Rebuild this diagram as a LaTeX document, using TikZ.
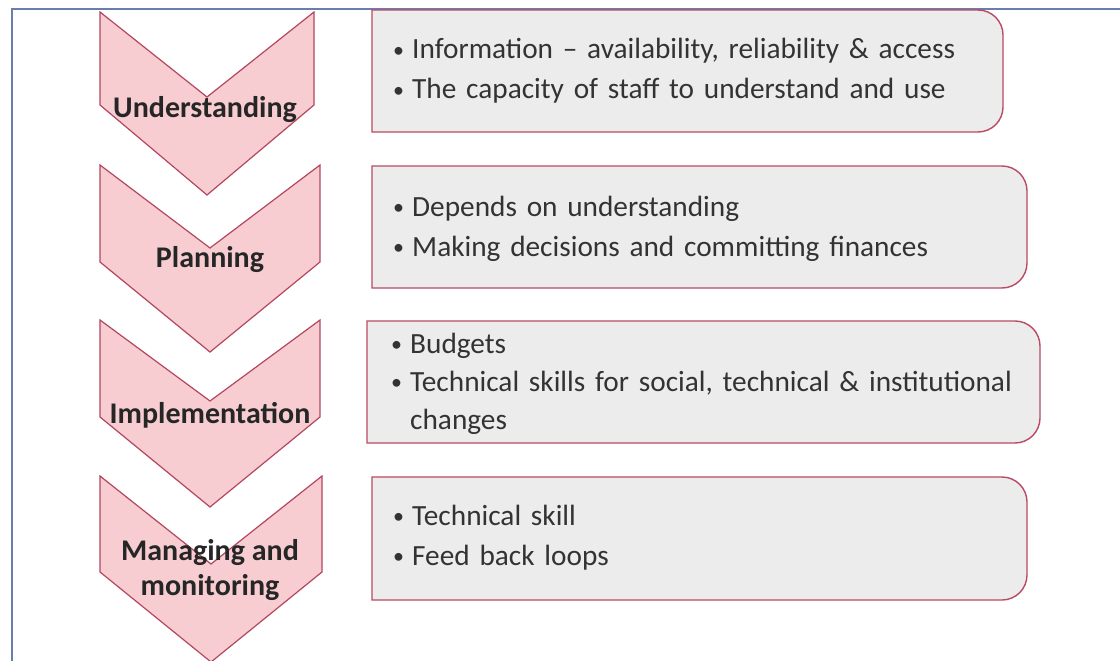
\documentclass[tikz,border=0pt]{standalone}
\usepackage{fontspec}
\setmainfont{Carlito}
\begin{document}
\begin{tikzpicture}[x=1pt,y=-1pt,
  chevfill/.style={draw=chevline, line width=1.2pt, fill=chevpink, line join=miter},
  itembox/.style={draw=boxline, line width=1.4pt, fill=boxgray},
  chevlabel/.style={font=\fontsize{30}{34}\selectfont\bfseries, text=black!85, align=center, inner sep=0pt},
  itemtext/.style={font=\fontsize{29.3}{40}\selectfont, text=black!80, align=left, anchor=base west, inner sep=0pt, text width=680pt}]
\definecolor{chevpink}{RGB}{247,205,210}
\definecolor{chevline}{RGB}{180,70,95}
\definecolor{boxgray}{RGB}{236,236,236}
\definecolor{boxline}{RGB}{185,75,100}
\definecolor{frameblue}{RGB}{105,125,175}
\useasboundingbox (0,0) rectangle (1120,661);
\fill[white] (0,0) rectangle (1120,661);
% frame
\draw[frameblue, line width=1.6pt] (12,661) -- (12,9) -- (1120,9);
% chevrons
\newcommand{\chevron}[5]{% cx, top, halfwidth, notchdepth, sidedepth
  \draw[chevfill] (#1-#3,#2) -- (#1,#2+#4) -- (#1+#3,#2) -- (#1+#3,#2+#5) -- (#1,#2+#5+90) -- (#1-#3,#2+#5) -- cycle;}
\chevron{207}{12}{107}{85}{93}
\chevron{210}{165}{110}{83}{97}
\chevron{210}{320}{110}{81}{97}
\chevron{211}{476}{111}{88}{96}
% boxes (rounded on right)
\newcommand{\rbox}[4]{% left, top, right, bottom
  \draw[itembox] (#1,#2) -- (#3-25,#2) arc[start angle=-90,end angle=0,radius=25] -- (#3,#4-25) arc[start angle=0,end angle=90,radius=25] -- (#1,#4) -- cycle;}
\rbox{372}{10}{1003}{132}
\rbox{372}{166}{1027}{288}
\rbox{367}{321}{1040}{443}
\rbox{372}{477}{1027}{600}
% chevron labels
\node[chevlabel] (l1) at (205,110) {Understanding};
\node[chevlabel] (l2) at (210,260) {Planning};
\node[chevlabel] (l3) at (210,415) {Implementation};
\node[chevlabel, font=\fontsize{30}{35}\selectfont\bfseries] (l4) at (210,570) {Managing and\\monitoring};
% box texts
\newcommand{\itm}{\makebox[21pt][l]{\hspace*{2pt}\raisebox{1.5pt}{\fontsize{22}{22}\selectfont\textbullet}}}
\node[itemtext] (t1) at (391,59) {\itm Information – availability, reliability \& access\\\itm The capacity of staff to understand and use};
\node[itemtext] (t2) at (391,216) {\itm Depends on understanding\\\itm Making decisions and committing finances};
\node[itemtext, font=\fontsize{29.3}{38}\selectfont] (t3) at (389,353) {\itm Budgets\\\itm Technical skills for social, technical \& institutional\\\hspace*{21pt}changes};
\node[itemtext] (t4) at (391,525) {\itm Technical skill\\\itm Feed back loops};
\end{tikzpicture}
\end{document}
